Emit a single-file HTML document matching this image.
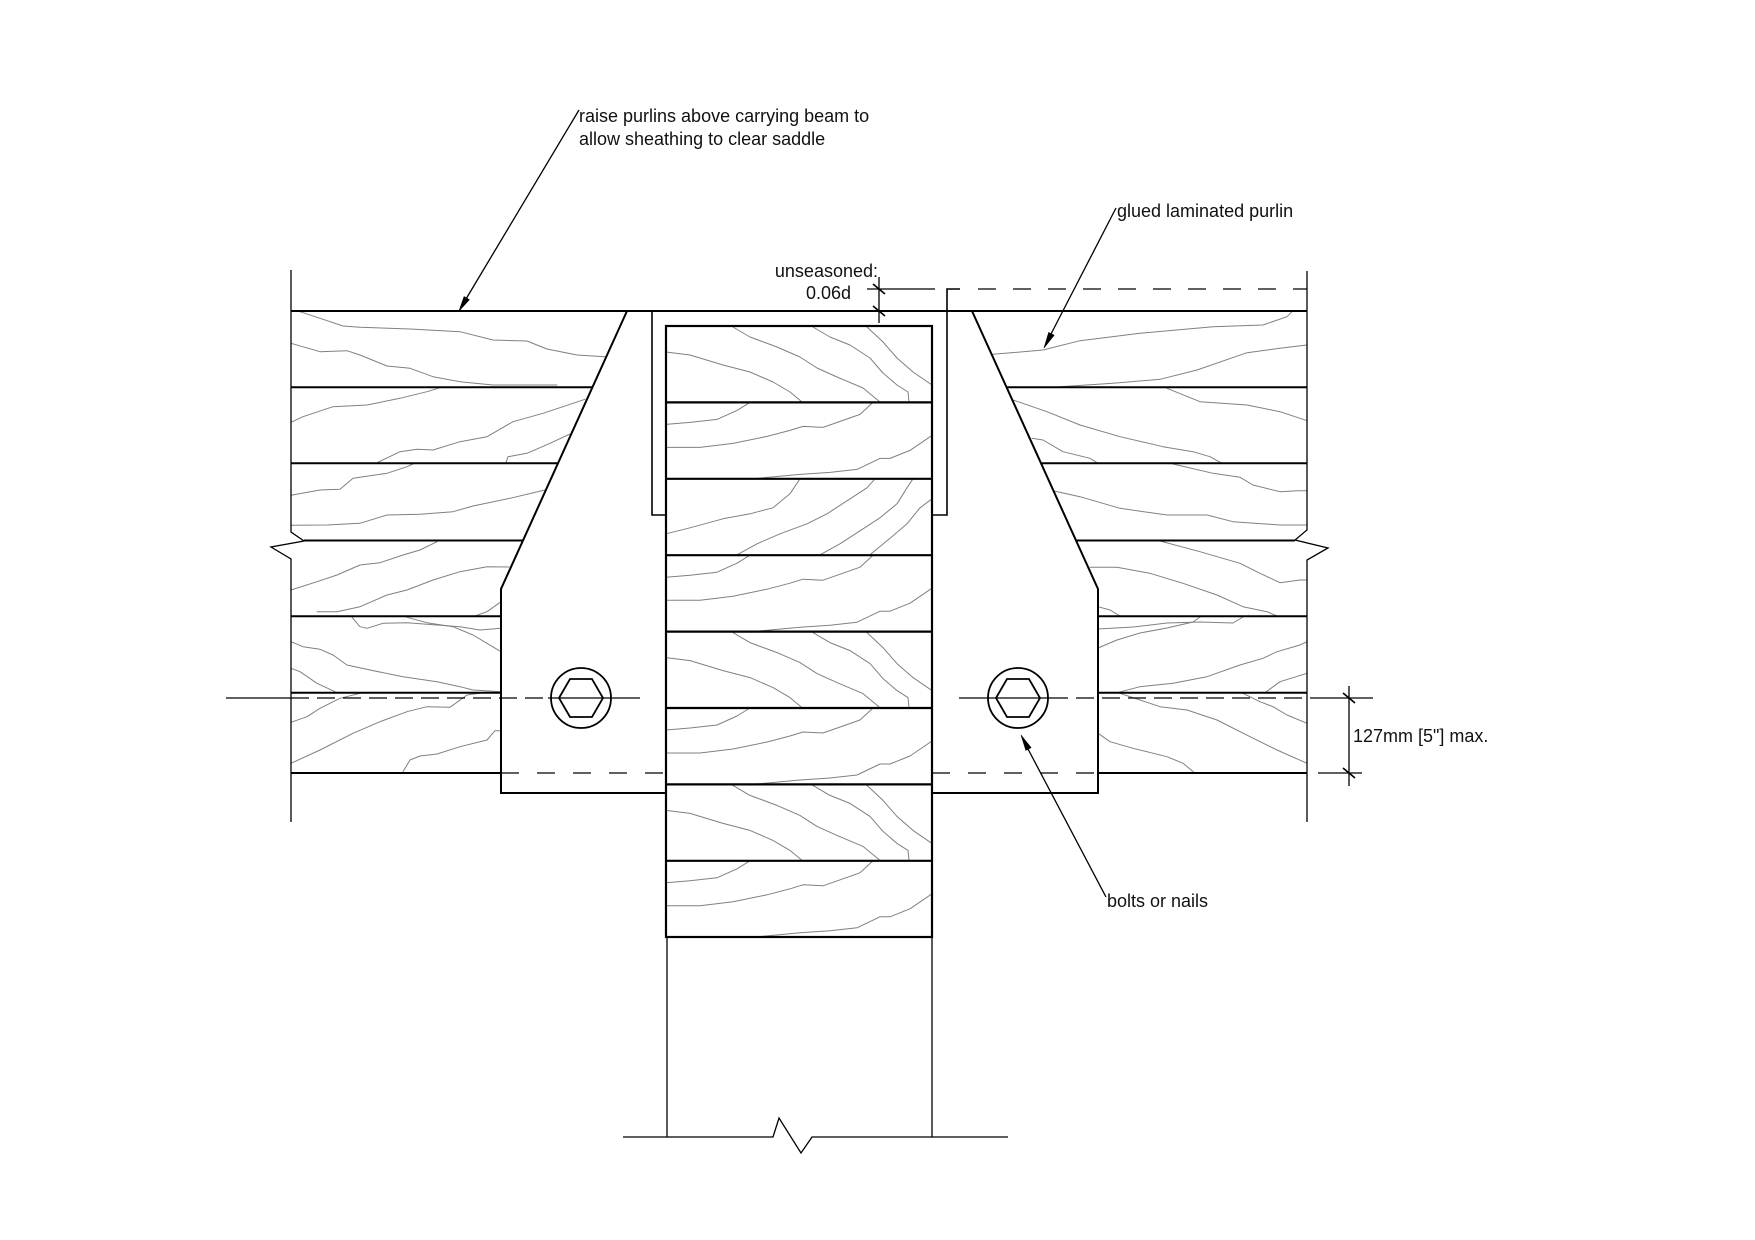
<!DOCTYPE html>
<html>
<head>
<meta charset="utf-8">
<style>
  html, body { margin:0; padding:0; background:#fff; }
  svg { display:block; }
  text { font-family: "Liberation Sans", Arial, sans-serif; font-size:18px; fill:#111; }
</style>
</head>
<body>
<svg width="1755" height="1240" viewBox="0 0 1755 1240" xmlns="http://www.w3.org/2000/svg">
<rect width="1755" height="1240" fill="#fff"/>

<!-- ============ GRAIN LINES ============ -->
<g fill="none" stroke="#808080" stroke-width="1" stroke-linejoin="round" stroke-linecap="round">
  <!-- left purlin -->
  <polyline points="300,311.7 320,318.3 343,326 360,327.3 410,329 460,331.7 493,340 527,341 547,349 577,355 605,356.7"/>
  <polyline points="291,343.3 320,351.7 347,350.7 360,355 387,366 410,368.3 433,376.7 460,381.7 493,385 557,385"/>
  <polyline points="291,422.3 303,416.7 333,406.7 367,405 400,398.3 427,391.7 440,387.7"/>
  <polyline points="377,462.7 400,451.7 417,449.3 433,450 460,441.7 487,436.7 513,421.7 543,413.3 585,399.3"/>
  <polyline points="506,462.7 508,456.7 527,453.3 550,443.3 570,434"/>
  <polyline points="291,495.3 320,490 340,489.3 353,478.3 387,473.3 407,466.7 413,464"/>
  <polyline points="291,525.3 327,525 360,523.3 387,515 420,514.3 453,511.7 473,506 510,498.3 545,490"/>
  <polyline points="291,590 317,581.7 337,575 360,565 380,562.7 403,555 420,550 437,541.7"/>
  <polyline points="317,611.7 337,611.7 360,606.7 387,595 407,590 433,580 460,571.7 487,566.7 509,567"/>
  <polyline points="475,616 487,611.7 501,601.7"/>
  <polyline points="352,617.3 360,626.7 367,628.3 383,623.3 407,622.7 437,625 460,626.7 480,630 501,628.3"/>
  <polyline points="407,617.3 427,622.7 453,626.7 473,635 501,651.7"/>
  <polyline points="291,641.7 303,646.7 320,649.3 333,655 347,665 370,670 403,676.7 437,681.7 460,686.7 473,690 501,691.7"/>
  <polyline points="291,668.3 300,671.7 317,683.3 335,691.7"/>
  <polyline points="291,722.3 307,716.7 320,708.3 340,698.3 360,693.3"/>
  <polyline points="291,763.3 320,750 353,733.3 380,721.7 407,711.7 427,706.7 450,707.3 467,695 483,692.7"/>
  <polyline points="403,771.7 410,760 420,756 437,754 460,746.7 487,740 495,730.7 501,730.7"/>

  <!-- right purlin -->
  <polyline points="993,354.3 1043,350 1080,340.7 1140,333.3 1213,326.7 1263,325 1287,316.7 1292,311.7"/>
  <polyline points="1060,386.7 1113,383.3 1160,379.3 1197,370 1247,352.7 1280,348.3 1307,345"/>
  <polyline points="1013,400 1047,411.7 1080,425 1120,436.7 1163,446.7 1193,451.7 1210,456.7 1222,463.3"/>
  <polyline points="1167,388.3 1200,401.7 1247,405 1280,411.7 1307,420.7"/>
  <polyline points="1032,438.3 1043,440 1063,451.7 1090,458.3 1098,463.3"/>
  <polyline points="1053,490.7 1080,496.7 1120,508.3 1167,515 1207,515 1233,521.7 1280,525 1307,525"/>
  <polyline points="1173,464 1213,473.3 1240,477.3 1253,485 1280,491.7 1297,490.7 1307,490.7"/>
  <polyline points="1160,541 1200,551.7 1240,563.3 1260,573.3 1280,582.7 1300,580 1307,580"/>
  <polyline points="1090,567.3 1117,567.3 1150,573.3 1183,583.3 1217,595 1243,606.7 1267,611.7 1277,616"/>
  <polyline points="1098,606.7 1110,610 1120,616"/>
  <polyline points="1098,629 1133,627 1167,623 1200,622 1233,623 1243,617"/>
  <polyline points="1098,648 1117,640 1140,633 1167,628 1193,622 1200,617"/>
  <polyline points="1117,692.7 1140,686.7 1173,683.3 1207,676.7 1240,665 1263,658.3 1277,651.7 1300,645 1307,641.7"/>
  <polyline points="1265,692.7 1280,681.7 1307,673.3 1307,663.3"/>
  <polyline points="1118,692.7 1140,700 1160,706.7 1187,710 1217,720 1250,736.7 1277,750 1307,763.3"/>
  <polyline points="1243,693.3 1260,701.7 1273,706.7 1287,715 1307,723.3"/>
  <polyline points="1098,733.3 1110,741.7 1133,748.3 1167,756.7 1183,763.3 1195,773.3"/>

  <!-- beam pattern A -->
  <g id="pA" transform="translate(666,326)">
    <polyline points="0,26 24,29 57,39 84,46 107,56 124,66 136,76"/>
    <polyline points="67,1 84,11 111,21 134,31 151,42 171,51 197,62 214,76"/>
    <polyline points="147,1 164,11 184,19 204,32 217,47 231,59 242,66 243,76"/>
    <polyline points="201,1 217,16 231,32 247,46 266,59"/>
  </g>
  <g transform="translate(666,631.6)">
    <polyline points="0,26 24,29 57,39 84,46 107,56 124,66 136,76"/>
    <polyline points="67,1 84,11 111,21 134,31 151,42 171,51 197,62 214,76"/>
    <polyline points="147,1 164,11 184,19 204,32 217,47 231,59 242,66 243,76"/>
    <polyline points="201,1 217,16 231,32 247,46 266,59"/>
  </g>
  <g transform="translate(666,784.4)">
    <polyline points="0,26 24,29 57,39 84,46 107,56 124,66 136,76"/>
    <polyline points="67,1 84,11 111,21 134,31 151,42 171,51 197,62 214,76"/>
    <polyline points="147,1 164,11 184,19 204,32 217,47 231,59 242,66 243,76"/>
    <polyline points="201,1 217,16 231,32 247,46 266,59"/>
  </g>
  <!-- beam pattern B -->
  <g transform="translate(666,402.4)">
    <polyline points="0,22 24,20 51,17 71,8 84,0"/>
    <polyline points="0,45 34,45 67,41 101,34 124,28 137,24 157,25 177,18 194,12 207,0"/>
    <polyline points="91,76 134,72 164,70 191,67 214,56 224,56 244,48 266,33"/>
  </g>
  <g transform="translate(666,555.2)">
    <polyline points="0,22 24,20 51,17 71,8 84,0"/>
    <polyline points="0,45 34,45 67,41 101,34 124,28 137,24 157,25 177,18 194,12 207,0"/>
    <polyline points="91,76 134,72 164,70 191,67 214,56 224,56 244,48 266,33"/>
  </g>
  <g transform="translate(666,708)">
    <polyline points="0,22 24,20 51,17 71,8 84,0"/>
    <polyline points="0,45 34,45 67,41 101,34 124,28 137,24 157,25 177,18 194,12 207,0"/>
    <polyline points="91,76 134,72 164,70 191,67 214,56 224,56 244,48 266,33"/>
  </g>
  <g transform="translate(666,860.8)">
    <polyline points="0,22 24,20 51,17 71,8 84,0"/>
    <polyline points="0,45 34,45 67,41 101,34 124,28 137,24 157,25 177,18 194,12 207,0"/>
    <polyline points="91,76 134,72 164,70 191,67 214,56 224,56 244,48 266,33"/>
  </g>
  <!-- beam pattern C -->
  <g transform="translate(666,478.8)">
    <polyline points="0,55 24,49 57,40 84,35 107,29 124,15 134,0"/>
    <polyline points="71,76 91,65 114,55 141,45 161,35 181,22 201,9 209,0"/>
    <polyline points="154,76 174,65 194,52 214,39 231,25 241,9 247,0"/>
    <polyline points="204,76 221,62 241,45 254,29 266,20"/>
  </g>
</g>

<!-- ============ MAIN OUTLINES ============ -->
<g fill="none" stroke="#000" stroke-linejoin="miter">
  <!-- purlin outer verticals with break symbols -->
  <path d="M291 270 V532 L304 541 L271 547 L291 559 V822" stroke-width="1.3"/>
  <path d="M1307 271 V530 L1295 540 L1328 548 L1307 560 V822" stroke-width="1.3"/>

  <!-- top line -->
  <path d="M291 311 H1307" stroke-width="2"/>

  <!-- left purlin laminations -->
  <path d="M291 387.3 H592.4 M291 463.3 H558 M304 540.5 H523 M291 616.3 H501 M291 692.7 H501 M291 773 H501" stroke-width="2"/>
  <!-- right purlin laminations -->
  <path d="M1006.6 387.3 H1307 M1041 463.3 H1307 M1076 540.5 H1295 M1098 616.3 H1307 M1098 692.7 H1307 M1098 773 H1307" stroke-width="2"/>

  <!-- saddle side plates -->
  <path d="M627 311 L501 589 V793 H666" stroke-width="2"/>
  <path d="M972 311 L1098 589 V793 H932" stroke-width="2"/>

  <!-- U strap -->
  <path d="M652 311 V515 H666" stroke-width="1.6"/>
  <path d="M960 289 H947 V515 H932" stroke-width="1.6"/>

  <!-- beam -->
  <rect x="666" y="326" width="266" height="611" stroke-width="2.2"/>
  <path d="M666 402.4 H932 M666 478.8 H932 M666 555.2 H932 M666 631.6 H932 M666 708 H932 M666 784.4 H932 M666 860.8 H932" stroke-width="2.2"/>
  <path d="M667 937 V1137 M932 937 V1137" stroke-width="1.3"/>
  <!-- bottom break line -->
  <path d="M623 1137 H773 L779 1118 L801 1153 L812 1137 H1008" stroke-width="1.3"/>

  <!-- bolts -->
  <circle cx="581" cy="698" r="30" stroke-width="1.8"/>
  <polygon points="559,698 570,679 592,679 603,698 592,717 570,717" stroke-width="1.8"/>
  <circle cx="1018" cy="698" r="30" stroke-width="1.8"/>
  <polygon points="996,698 1007,679 1029,679 1040,698 1029,717 1007,717" stroke-width="1.8"/>
</g>

<!-- ============ CENTER / HIDDEN LINES ============ -->
<g fill="none" stroke="#000" stroke-width="1.2">
  <path d="M226 698 H291"/>
  <path d="M291 698 H548" stroke-dasharray="18 8"/>
  <path d="M548 698 H640"/>
  <path d="M959 698 H1050"/>
  <path d="M1050 698 H1318" stroke-dasharray="18 8"/>
  <path d="M1318 698 H1373"/>
  <!-- hidden line through plates -->
  <path d="M501 773 H666" stroke-dasharray="18 18"/>
  <path d="M932 773 H1098" stroke-dasharray="18 18"/>
  <path d="M1318 773 H1362"/>
  <!-- unseasoned top dashed line -->
  <path d="M978 289 H1307" stroke-dasharray="18 17"/>
  <path d="M867 289 H935"/>
</g>

<!-- ============ DIMENSIONS ============ -->
<g fill="none" stroke="#000" stroke-width="1.3">
  <path d="M879 277 V323"/>
  <path d="M873 284 L885 294 M873 306 L885 316" stroke-width="1.6"/>
  <path d="M1349 686 V786"/>
  <path d="M1343 693 L1355 703 M1343 768 L1355 778" stroke-width="1.6"/>
</g>

<!-- ============ LEADERS ============ -->
<g stroke="#000" stroke-width="1.3" fill="none">
  <path d="M579 110 L466 299"/>
  <path d="M1116 208 L1051 334"/>
  <path d="M1106 897 L1028 749"/>
</g>
<g fill="#000" stroke="#000" stroke-width="0.6">
  <polygon points="459,311 469.3,299.7 464.1,296.6"/>
  <polygon points="1044,348 1054.1,335.2 1048.7,332.4"/>
  <polygon points="1021,735 1031.1,747.7 1025.9,750.5"/>
</g>

<!-- ============ TEXT ============ -->
<text x="579" y="122">raise purlins above carrying beam to</text>
<text x="579" y="145">allow sheathing to clear saddle</text>
<text x="1117" y="217">glued laminated purlin</text>
<text x="878" y="277" text-anchor="end">unseasoned:</text>
<text x="806" y="299">0.06d</text>
<text x="1353" y="742">127mm [5"] max.</text>
<text x="1107" y="907">bolts or nails</text>
</svg>
</body>
</html>
